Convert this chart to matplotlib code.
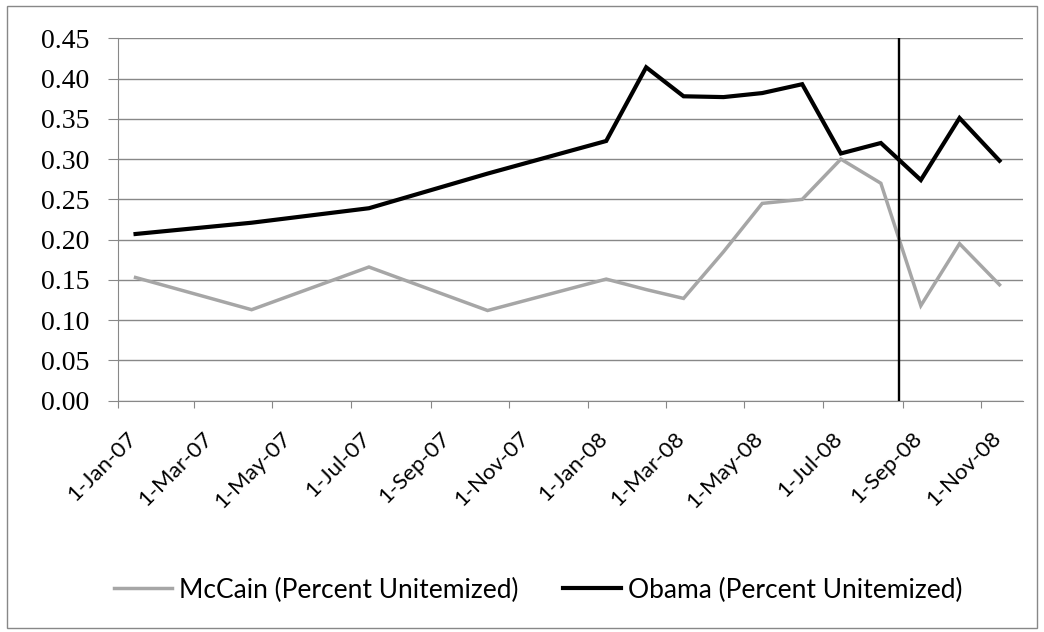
import matplotlib
matplotlib.use("Agg")
import matplotlib.pyplot as plt
from matplotlib.patches import Rectangle
from matplotlib.transforms import ScaledTranslation
import pandas as pd

# ---------------- data ----------------
dates = ["2007-01-15", "2007-04-15", "2007-07-15", "2007-10-15", "2008-01-15",
         "2008-02-15", "2008-03-15", "2008-04-15", "2008-05-15", "2008-06-15",
         "2008-07-15", "2008-08-15", "2008-09-15", "2008-10-15", "2008-11-15"]
mccain = [0.153, 0.113, 0.166, 0.112, 0.151, 0.138, 0.127, 0.185, 0.245, 0.250,
          0.300, 0.270, 0.118, 0.195, 0.144]
obama = [0.207, 0.221, 0.239, 0.282, 0.3225, 0.414, 0.378, 0.377, 0.382, 0.393,
         0.307, 0.320, 0.274, 0.351, 0.298]
event_date = "2008-08-29"
tick_dates = ["2007-01-01", "2007-03-01", "2007-05-01", "2007-07-01", "2007-09-01",
              "2007-11-01", "2008-01-01", "2008-03-01", "2008-05-01", "2008-07-01",
              "2008-09-01", "2008-11-01"]
tick_labels = ["1-Jan-07", "1-Mar-07", "1-May-07", "1-Jul-07", "1-Sep-07", "1-Nov-07",
               "1-Jan-08", "1-Mar-08", "1-May-08", "1-Jul-08", "1-Sep-08", "1-Nov-08"]
y_ticks = [0.00, 0.05, 0.10, 0.15, 0.20, 0.25, 0.30, 0.35, 0.40, 0.45]
series_names = ["McCain (Percent Unitemized)", "Obama (Percent Unitemized)"]

x = pd.to_datetime(dates)
xt = pd.to_datetime(tick_dates)

W, H = 1044, 632
fig = plt.figure(figsize=(W / 100, H / 100), dpi=100)
fig.patch.set_facecolor("white")

ax = fig.add_axes([117.5 / W, 1 - 400.7 / H, (1022.7 - 117.5) / W, (400.7 - 38.3) / H])

grid_c = "#888888"
ax.plot(x, mccain, color="#A6A6A6", lw=2.5, solid_joinstyle="miter", label=series_names[0], zorder=3)
ax.plot(x, obama, color="black", lw=3.0, solid_joinstyle="miter", label=series_names[1], zorder=4)
ax.axvline(pd.Timestamp(event_date), color="black", lw=1.7, zorder=5)

ax.set_ylim(0, 0.45)
ax.set_xlim(pd.Timestamp("2007-01-01"), pd.Timestamp("2008-12-03"))

ax.yaxis.grid(True, color=grid_c, lw=1.0)
ax.set_axisbelow(True)
for s in ["top", "right"]:
    ax.spines[s].set_visible(False)
ax.spines["left"].set_color(grid_c)
ax.spines["bottom"].set_color(grid_c)
ax.tick_params(axis="y", length=7.2, color=grid_c, pad=13)
ax.tick_params(axis="x", length=5, color=grid_c, pad=4)

ax.set_yticks(y_ticks)
ax.set_yticklabels([f"{v:.2f}" for v in y_ticks], fontfamily="Liberation Serif", fontsize=20)
ax.set_xticks(xt)
ax.set_xticklabels(tick_labels, rotation=45, ha="right", va="center", rotation_mode="anchor",
                   fontfamily="Lato", fontsize=16)
offset = ScaledTranslation(16 / 100, -22 / 100, fig.dpi_scale_trans)
for lab in ax.get_xticklabels():
    lab.set_transform(lab.get_transform() + offset)

fig.legend(loc="center", bbox_to_anchor=(538 / W, 1 - 590 / H), ncol=2, frameon=False,
           prop={"family": "Lato", "size": 19}, handlelength=2.2, columnspacing=1.7,
           handletextpad=0.25)

fig.patches.append(Rectangle((7 / W, 1 - 628 / H), (1037 - 7) / W, (628 - 6) / H,
                             transform=fig.transFigure, fill=False, edgecolor="#888888", lw=1.0))

fig.savefig("out.png", dpi=100)
